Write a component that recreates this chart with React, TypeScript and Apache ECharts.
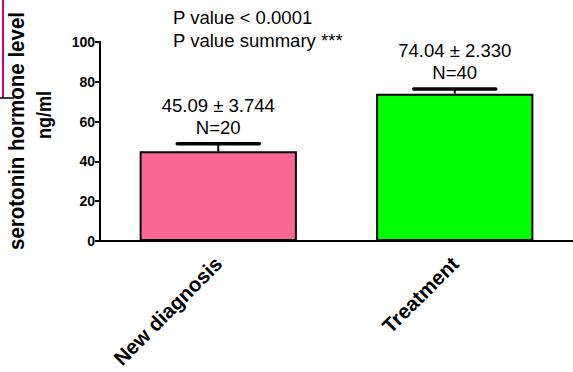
import React, { useEffect, useRef } from "react";
import * as echarts from "echarts";

const categories = ["New diagnosis", "Treatment"];
const means = [45.09, 74.04];
const sems = [3.744, 2.33];
const counts = [20, 40];
const barColors = ["#FB6895", "#00FF00"];
const yTicks = { min: 0, max: 100, interval: 20 };
const pTexts = ["P value < 0.0001", "P value summary ***"];
const yTitle = ["serotonin hormone level", "ng/ml"];

const FONT = "Arial, 'Liberation Sans', sans-serif";

export default function App() {
  const ref = useRef<HTMLDivElement>(null);
  useEffect(() => {
    if (!ref.current) return;
    const chart = echarts.init(ref.current, null, { renderer: "svg" });
    const errData = means.map((m, i) => [i, m, sems[i], counts[i]]);
    const txt = (text: string, x: number, y: number, extra: any = {}) => ({
      type: "text",
      x,
      y,
      scaleX: 1.06,
      style: {
        text,
        fill: "#000",
        fontSize: 17.5,
        fontFamily: FONT,
        align: "left",
        verticalAlign: "middle",
        ...extra,
      },
    });
    chart.setOption({
      animation: false,
      backgroundColor: "#fff",
      grid: { left: 100, top: 42, width: 483, height: 199, containLabel: false },
      xAxis: {
        type: "category",
        data: categories,
        axisLine: { lineStyle: { color: "#000", width: 2 } },
        axisTick: { alignWithLabel: true, length: 5, lineStyle: { color: "#000", width: 2 } },
        axisLabel: {
          rotate: 45,
          margin: 19,
          color: "#000",
          fontWeight: "bold",
          fontSize: 20.5,
          fontFamily: FONT,
        },
      },
      yAxis: {
        type: "value",
        min: yTicks.min,
        max: yTicks.max,
        interval: yTicks.interval,
        splitLine: { show: false },
        axisLine: { show: true, lineStyle: { color: "#000", width: 2 } },
        axisTick: { show: true, length: 5, lineStyle: { color: "#000", width: 2 } },
        axisLabel: {
          margin: 5,
          color: "#000",
          fontWeight: "bold",
          fontSize: 14,
          fontFamily: FONT,
        },
      },
      series: [
        {
          type: "bar",
          barWidth: "66.5%",
          data: means.map((v, i) => ({
            value: v,
            itemStyle: { color: barColors[i], borderColor: "#000", borderWidth: 2 },
          })),
          z: 2,
        },
        {
          type: "custom",
          z: 5,
          data: errData,
          encode: { x: 0, y: 1 },
          renderItem: (params: any, api: any) => {
            const idx = api.value(0);
            const mean = api.value(1);
            const sem = api.value(2);
            const n = api.value(3);
            const base = api.coord([idx, mean]);
            const top = api.coord([idx, mean + sem]);
            const half = 41;
            return {
              type: "group",
              children: [
                {
                  type: "line",
                  shape: { x1: top[0], y1: base[1], x2: top[0], y2: top[1] },
                  style: { stroke: "#000", lineWidth: 2 },
                },
                {
                  type: "line",
                  shape: { x1: top[0] - half, y1: top[1], x2: top[0] + half, y2: top[1] },
                  style: { stroke: "#000", lineWidth: 3.5, lineCap: "round" },
                },
                {
                  type: "text",
                  x: top[0],
                  y: top[1] - 38,
                  scaleX: 1.06,
                  style: {
                    text: `${mean.toFixed(2)} \u00b1 ${sem.toFixed(3)}`,
                    fill: "#000",
                    fontSize: 17.5,
                    fontFamily: FONT,
                    align: "center",
                    verticalAlign: "middle",
                  },
                },
                {
                  type: "text",
                  x: top[0],
                  y: top[1] - 16,
                  scaleX: 1.06,
                  style: {
                    text: `N=${n}`,
                    fill: "#000",
                    fontSize: 17.5,
                    fontFamily: FONT,
                    align: "center",
                    verticalAlign: "middle",
                  },
                },
              ],
            };
          },
        },
      ],
      graphic: [
        {
          type: "line",
          shape: { x1: 3, y1: 0, x2: 3, y2: 98 },
          style: { stroke: "#C8009A", lineWidth: 2 },
        },
        {
          type: "line",
          shape: { x1: 0, y1: 98, x2: 14, y2: 98 },
          style: { stroke: "#000", lineWidth: 1.5 },
        },
        txt(pTexts[0], 173, 18),
        txt(pTexts[1], 173, 41),
        {
          type: "text",
          x: 17,
          y: 131,
          rotation: Math.PI / 2,
          scaleY: 1.08,
          style: {
            text: yTitle[0],
            fill: "#000",
            fontSize: 20.5,
            fontWeight: "bold",
            fontFamily: FONT,
            align: "center",
            verticalAlign: "middle",
          },
        },
        {
          type: "text",
          x: 44,
          y: 115,
          rotation: Math.PI / 2,
          scaleY: 1.08,
          style: {
            text: yTitle[1],
            fill: "#000",
            fontSize: 18,
            fontWeight: "bold",
            fontFamily: FONT,
            align: "center",
            verticalAlign: "middle",
          },
        },
      ],
    });
    return () => chart.dispose();
  }, []);
  return (
    <div
      ref={ref}
      style={{ position: "fixed", left: 0, top: 0, width: 573, height: 372 }}
    />
  );
}
